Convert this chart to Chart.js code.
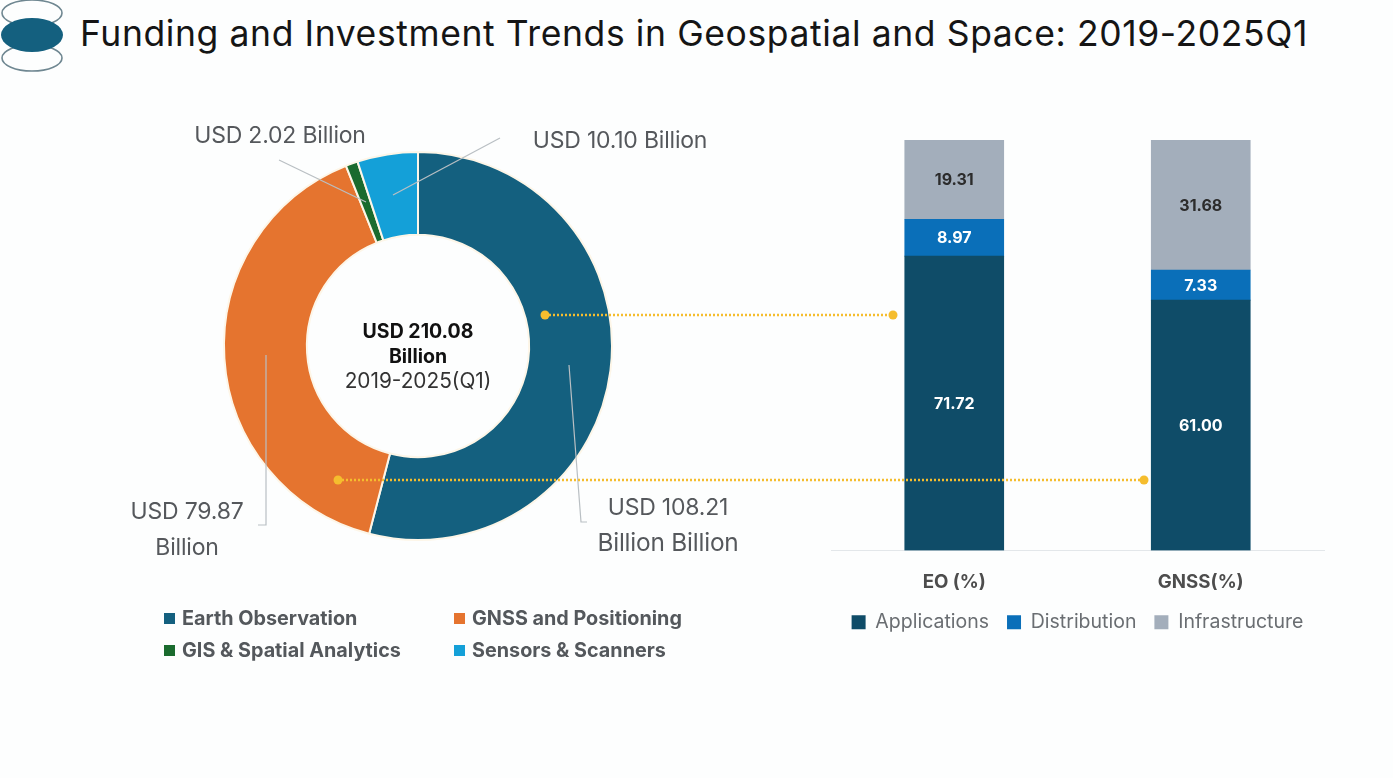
<!DOCTYPE html>
<html>
<head>
<meta charset="utf-8">
<title>Funding and Investment Trends</title>
<script src="https://cdn.jsdelivr.net/npm/chart.js@4"></script>
<style>
  html, body { margin: 0; padding: 0; background: #fdfefe; }
  body { width: 1393px; height: 778px; position: relative; overflow: hidden; font-family: Inter, sans-serif; color: #555; }
  canvas { position: absolute; }
  .wrap { position: absolute; }
  .txt { position: absolute; white-space: nowrap; text-align: center; transform: translate(-50%, -50%); }
  .call { font-size: 23px; color: #55585c; letter-spacing: -0.2px; }
  .leg { font-size: 19.8px; font-weight: 700; color: #54585c; transform: translate(0, -50%); }
  .sq { position: absolute; width: 11px; height: 11px; }
  svg { position: absolute; left: 0; top: 0; }
</style>
</head>
<body>

<svg width="1393" height="778">
  <ellipse cx="32" cy="13" rx="30" ry="13" fill="none" stroke="#6f8791" stroke-width="1.6"/>
  <ellipse cx="32" cy="58" rx="30" ry="13" fill="none" stroke="#6f8791" stroke-width="1.6"/>
  <ellipse cx="32" cy="35" rx="31" ry="17" fill="#14607f"/>
</svg>

<div class="txt" id="title" style="left:694px;top:33px;font-size:35.5px;letter-spacing:0.6px;color:#151515;">Funding and Investment Trends in Geospatial and Space: 2019-2025Q1</div>

<div class="wrap" style="left:218px;top:146px;width:400px;height:400px;"><canvas id="donut"></canvas></div>
<div class="wrap" style="left:831px;top:130px;width:495px;height:512px;"><canvas id="bars"></canvas></div>

<!-- leader lines and yellow connectors sit on top of the charts -->
<svg width="1393" height="778">
  <g fill="none" stroke="#b9bfc3" stroke-width="1.2">
    <path d="M279 160 L366 202"/>
    <path d="M500 138 L393 195"/>
    <path d="M266 355 L266 525 L258 525"/>
    <path d="M569 365 L581 522 L587 522"/>
  </g>
  <g fill="none" stroke="#f5bd2e" stroke-width="2.4" stroke-dasharray="2 2">
    <path d="M545 315 H893"/>
    <path d="M338 480 H1144"/>
  </g>
  <g fill="#f5bd2e">
    <circle cx="545" cy="315" r="4.5"/><circle cx="893" cy="315" r="4.5"/>
    <circle cx="338" cy="480" r="4.5"/><circle cx="1144" cy="480" r="4.5"/>
  </g>
</svg>

<div class="txt call" style="left:280px;top:135px;">USD 2.02 Billion</div>
<div class="txt call" style="left:620px;top:140px;">USD 10.10 Billion</div>
<div class="txt call" style="left:187px;top:511px;">USD 79.87</div>
<div class="txt call" style="left:187px;top:547px;">Billion</div>
<div class="txt call" style="left:668px;top:507px;">USD 108.21</div>
<div class="txt call" style="left:668px;top:542px;font-size:24.4px;">Billion Billion</div>

<div class="txt" style="left:418px;top:331px;font-size:19.5px;font-weight:700;color:#111;">USD 210.08</div>
<div class="txt" style="left:418px;top:356px;font-size:19.5px;font-weight:700;color:#111;">Billion</div>
<div class="txt" style="left:418px;top:380px;font-size:20.8px;color:#333;">2019-2025(Q1)</div>

<div id="donutLegend"></div>

<script>
const donutLabels = ['Earth Observation', 'GNSS and Positioning', 'GIS & Spatial Analytics', 'Sensors & Scanners'];
const donutValues = [108.21, 79.87, 2.02, 10.10];
const donutColors = ['#14607f', '#e5742f', '#1a6b2e', '#14a0d8'];

const barCategories = ['EO (%)', 'GNSS(%)'];
const applications = [71.72, 61.00];
const distribution = [8.97, 7.33];
const infrastructure = [19.31, 31.68];

const legendSpots = [[164, 618], [454, 618], [164, 650], [454, 650]];

Chart.defaults.font.family = 'Inter, sans-serif';

new Chart(document.getElementById('donut'), {
  type: 'doughnut',
  data: {
    labels: donutLabels,
    datasets: [{
      data: donutValues,
      backgroundColor: donutColors,
      borderColor: '#fdf6e8',
      borderWidth: 2
    }]
  },
  options: {
    responsive: true,
    maintainAspectRatio: false,
    animation: false,
    radius: 194,
    cutout: 114,
    plugins: { legend: { display: false }, tooltip: { enabled: false } }
  }
});

// html legend for the donut, the two column layout is not something the built in one does
const legendBox = document.getElementById('donutLegend');
donutLabels.forEach((name, i) => {
  const sq = document.createElement('div');
  sq.className = 'sq';
  sq.style.left = legendSpots[i][0] + 'px';
  sq.style.top = (legendSpots[i][1] - 5) + 'px';
  sq.style.background = donutColors[i];
  legendBox.appendChild(sq);
  const t = document.createElement('div');
  t.className = 'txt leg';
  t.style.left = (legendSpots[i][0] + 18) + 'px';
  t.style.top = legendSpots[i][1] + 'px';
  t.textContent = name;
  legendBox.appendChild(t);
});

const barValueLabels = {
  id: 'barValueLabels',
  afterDatasetsDraw(chart) {
    const ctx = chart.ctx;
    ctx.save();
    ctx.font = '700 16px Inter, sans-serif';
    ctx.textAlign = 'center';
    ctx.textBaseline = 'middle';
    chart.data.datasets.forEach((ds, i) => {
      chart.getDatasetMeta(i).data.forEach((bar, j) => {
        const mid = (bar.y + bar.base) / 2 + 1;
        ctx.fillStyle = ds.labelColor;
        ctx.fillText(ds.data[j].toFixed(2), bar.x, mid);
      });
    });
    ctx.restore();
  }
};

new Chart(document.getElementById('bars'), {
  type: 'bar',
  data: {
    labels: barCategories,
    datasets: [
      { label: 'Applications', data: applications, backgroundColor: '#0f4c68', labelColor: '#ffffff', barThickness: 99 },
      { label: 'Distribution', data: distribution, backgroundColor: '#0a6fb9', labelColor: '#ffffff', barThickness: 99 },
      { label: 'Infrastructure', data: infrastructure, backgroundColor: '#a3aebb', labelColor: '#2c2c2c', barThickness: 99 }
    ]
  },
  options: {
    responsive: true,
    maintainAspectRatio: false,
    animation: false,
    layout: { padding: { top: 10, right: 2 } },
    scales: {
      x: {
        stacked: true,
        afterFit: (scale) => { scale.height = 44; },
        grid: { display: false },
        border: { color: '#e3e7ea' },
        ticks: { color: '#4d4d4d', padding: 13, font: { size: 18.7, weight: '700' } }
      },
      y: { stacked: true, display: false, min: 0, max: 100 }
    },
    plugins: {
      tooltip: { enabled: false },
      legend: {
        position: 'bottom',
        labels: { boxWidth: 14, boxHeight: 14, padding: 18, color: '#6a6e72', font: { size: 19.5 } }
      }
    }
  },
  plugins: [barValueLabels]
});
</script>
</body>
</html>
